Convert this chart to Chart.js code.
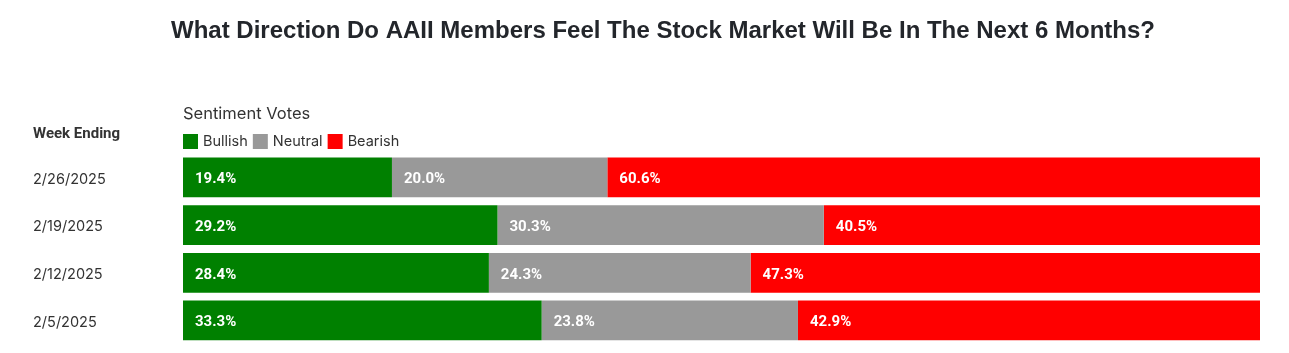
<!DOCTYPE html>
<html><head><meta charset="utf-8">
<script src="https://cdn.jsdelivr.net/npm/chart.js@4"></script>
<style>html,body{margin:0;padding:0;background:#fff}#wrap{width:1289px;height:353px;position:relative}</style>
</head><body><div id="wrap"><canvas id="c" width="1289" height="353"></canvas></div>
<script>
const title = "What Direction Do AAII Members Feel The Stock Market Will Be In The Next 6 Months?";
const legendTitle = "Sentiment Votes";
const axisTitle = "Week Ending";
const weeks = ["2/26/2025", "2/19/2025", "2/12/2025", "2/5/2025"];
const seriesNames = ["Bullish", "Neutral", "Bearish"];
const seriesColors = ["#008000", "#999999", "#ff0000"];
const bullish = [19.4, 29.2, 28.4, 33.3];
const neutral = [20.0, 30.3, 24.3, 23.8];
const bearish = [60.6, 40.5, 47.3, 42.9];
const seriesValues = [bullish, neutral, bearish];

const headerPlugin = {
  id: 'header',
  afterDraw(chart) {
    const ctx = chart.ctx;
    const left = chart.chartArea.left;
    ctx.save();
    ctx.fillStyle = '#23262b';
    ctx.font = 'bold 24px "Liberation Sans", Arial, sans-serif';
    ctx.textAlign = 'center';
    ctx.textBaseline = 'middle';
    ctx.fillText(title, 663, 31);
    ctx.textAlign = 'left';
    ctx.fillStyle = '#333';
    ctx.font = '16.5px Inter, sans-serif';
    ctx.fillText(legendTitle, left, 114);
    ctx.font = 'bold 15px Roboto, sans-serif';
    ctx.fillText(axisTitle, 33, 134);
    ctx.font = '14.5px Inter, sans-serif';
    let x = left;
    chart.data.datasets.forEach((ds) => {
      ctx.fillStyle = ds.backgroundColor;
      ctx.fillRect(x, 134, 15, 15);
      ctx.fillStyle = '#333';
      ctx.fillText(ds.label, x + 20, 142);
      x += 20 + ctx.measureText(ds.label).width + 5;
    });
    ctx.restore();
  },
  afterDatasetsDraw(chart) {
    const ctx = chart.ctx;
    ctx.save();
    ctx.fillStyle = '#fff';
    ctx.font = 'bold 15px Roboto, sans-serif';
    ctx.textAlign = 'left';
    ctx.textBaseline = 'middle';
    chart.data.datasets.forEach((ds, i) => {
      chart.getDatasetMeta(i).data.forEach((bar, j) => {
        ctx.fillText(ds.data[j].toFixed(1) + '%', bar.base + 12, bar.y + 2);
      });
    });
    ctx.restore();
  }
};

new Chart(document.getElementById('c'), {
  type: 'bar',
  data: {
    labels: weeks,
    datasets: seriesNames.map((n, i) => ({
      label: n, data: seriesValues[i], backgroundColor: seriesColors[i],
      borderWidth: 0, categoryPercentage: 1, barPercentage: 40/48
    }))
  },
  options: {
    indexAxis: 'y',
    responsive: false,
    animation: false,
    layout: { padding: { left: 33, right: 29, top: 153.5, bottom: 7.5 } },
    plugins: { legend: { display: false }, title: { display: false }, tooltip: { enabled: false } },
    scales: {
      x: { stacked: true, min: 0, max: 100, display: false },
      y: {
        stacked: true,
        grid: { display: false },
        border: { display: false },
        ticks: { crossAlign: 'far', labelOffset: 2, color: '#333', font: { family: 'Inter, sans-serif', size: 14.5 }, padding: 0 },
        afterFit(scale) { scale.width = 150; }
      }
    }
  },
  plugins: [headerPlugin]
});
</script></body></html>
